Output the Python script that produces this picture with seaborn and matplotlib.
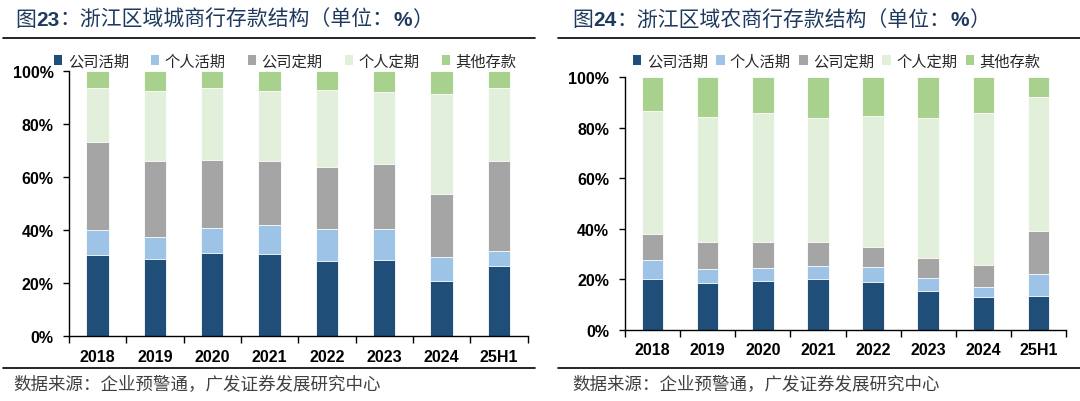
import matplotlib
matplotlib.use("Agg")
import matplotlib.pyplot as plt
import seaborn as sns
import numpy as np
import pandas as pd
from matplotlib.patches import Patch
from matplotlib.lines import Line2D

# ---------------- data ----------------
years = ["2018", "2019", "2020", "2021", "2022", "2023", "2024", "25H1"]
series = ["公司活期", "个人活期", "公司定期", "个人定期", "其他存款"]

# 浙江区域城商行 (%)
city_corp_demand = [30.8, 29.1, 31.3, 31.1, 28.6, 28.8, 20.9, 26.5]
city_pers_demand = [9.2, 8.5, 9.6, 10.8, 11.9, 11.7, 9.0, 5.7]
city_corp_time = [33.5, 28.4, 25.8, 24.1, 23.5, 24.7, 23.7, 34.1]
city_pers_time = [20.1, 26.7, 27.1, 26.7, 29.0, 27.0, 37.7, 27.3]
city_other = [6.4, 7.3, 6.2, 7.3, 7.0, 7.8, 8.7, 6.4]

# 浙江区域农商行 (%)
rural_corp_demand = [20.2, 18.6, 19.3, 20.2, 19.0, 15.6, 12.9, 13.3]
rural_pers_demand = [7.5, 5.5, 5.2, 5.0, 5.9, 5.0, 4.3, 9.0]
rural_corp_time = [10.4, 10.6, 10.5, 9.5, 8.1, 7.8, 8.5, 16.9]
rural_pers_time = [48.6, 49.7, 50.8, 49.1, 51.7, 55.6, 60.2, 53.1]
rural_other = [13.3, 15.6, 14.2, 16.2, 15.3, 16.0, 14.1, 7.7]

title_left = ("图", "23", "：浙江区域城商行存款结构（单位：", "%", "）")
title_right = ("图", "24", "：浙江区域农商行存款结构（单位：", "%", "）")
source_text = "数据来源：企业预警通，广发证券发展研究中心"

colors = ["#1F4E79", "#9DC3E6", "#A5A5A5", "#E2EFDA", "#A9D18E"]
navy = "#1F3A5F"

# ---------------- figure ----------------
sns.set_theme(style="white")
plt.rcParams["font.family"] = ["Liberation Sans", "Noto Sans CJK SC", "DejaVu Sans"]

W, H = 1080, 402
fig = plt.figure(figsize=(W / 100, H / 100), dpi=100)
fig.patch.set_facecolor("white")


def px_rect(x0, y_top, x1, y_bot):
    return [x0 / W, 1 - y_bot / H, (x1 - x0) / W, (y_bot - y_top) / H]


ax1 = fig.add_axes(px_rect(69, 72.3, 527.5, 337.3))
ax2 = fig.add_axes(px_rect(625, 78.3, 1066, 331))


def draw(ax, segs, xpad, ypad):
    cum = np.cumsum(np.array(segs), axis=0)
    for i in reversed(range(len(series))):
        df = pd.DataFrame({"year": years, "v": cum[i]})
        sns.barplot(data=df, x="year", y="v", order=years, color=colors[i],
                    saturation=1, width=0.39, edgecolor="white", linewidth=0.6,
                    ax=ax, errorbar=None)
    ax.set_xlim(-0.5, 7.5)
    ax.set_ylim(0, 100)
    ax.set_xlabel("")
    ax.set_ylabel("")
    ax.set_yticks(range(0, 101, 20))
    ax.set_yticklabels([f"{v}%" for v in range(0, 101, 20)])
    for s in ["top", "right"]:
        ax.spines[s].set_visible(False)
    for s in ["left", "bottom"]:
        ax.spines[s].set_color("black")
        ax.spines[s].set_linewidth(1.0)
    ax.set_xticks(np.arange(-0.5, 8.0, 1.0), minor=True)
    ax.tick_params(axis="x", which="major", length=0, pad=xpad, labelsize=11.5)
    ax.tick_params(axis="x", which="minor", length=5, width=1.0, color="black",
                   direction="out", bottom=True)
    ax.tick_params(axis="y", which="major", length=4, width=1.0, color="black",
                   direction="out", left=True, pad=ypad, labelsize=11.5)
    for lab in ax.get_xticklabels() + ax.get_yticklabels():
        lab.set_fontweight("bold")
        lab.set_color("black")
    ax.grid(False)


draw(ax1, [city_corp_demand, city_pers_demand, city_corp_time, city_pers_time, city_other], 9, 7)
draw(ax2, [rural_corp_demand, rural_pers_demand, rural_corp_time, rural_pers_time, rural_other], 8.5, 7.5)

# legends
handles = [Patch(facecolor=c, edgecolor="none") for c in colors]
leg_prop = {"family": ["Noto Sans CJK SC"], "size": 11}
ax1.legend(handles, series, loc="center left", bbox_to_anchor=(54 / W, 1 - 62 / H),
           bbox_transform=fig.transFigure, ncol=5, frameon=False, prop=leg_prop,
           handlelength=0.55, handleheight=0.55, handletextpad=0.35,
           columnspacing=1.45, borderaxespad=0, borderpad=0)
ax2.legend(handles, series, loc="center left", bbox_to_anchor=(633 / W, 1 - 62 / H),
           bbox_transform=fig.transFigure, ncol=5, frameon=False, prop=leg_prop,
           handlelength=0.55, handleheight=0.55, handletextpad=0.35,
           columnspacing=0.55, borderaxespad=0, borderpad=0)

# titles
fig.canvas.draw()
renderer = fig.canvas.get_renderer()


def draw_title(x_px, y_px, parts):
    x = x_px
    weights = ["normal", "bold", "normal", "bold", "normal"]
    for txt, wgt in zip(parts, weights):
        t = fig.text(x / W, 1 - y_px / H, txt, fontsize=15, fontweight=wgt,
                     color=navy, va="center", ha="left",
                     family=["Liberation Sans", "Noto Sans CJK SC"] if wgt == "bold"
                     else ["Noto Sans CJK SC"])
        x += t.get_window_extent(renderer).width


draw_title(15, 20, title_left)
draw_title(572, 20, title_right)

# rules
for (x0, x1) in [(3, 535), (558, 1080)]:
    for y in (39, 369):
        fig.add_artist(Line2D([x0 / W, x1 / W], [1 - y / H, 1 - y / H],
                              transform=fig.transFigure, color="black", lw=1.2))

# sources
fig.text(13 / W, 1 - 385 / H, source_text, fontsize=12.6, color="#404040",
         va="center", ha="left", family=["Noto Sans CJK SC"])
fig.text(572 / W, 1 - 385 / H, source_text, fontsize=12.6, color="#404040",
         va="center", ha="left", family=["Noto Sans CJK SC"])

fig.savefig("out.png", dpi=100, facecolor="white")
